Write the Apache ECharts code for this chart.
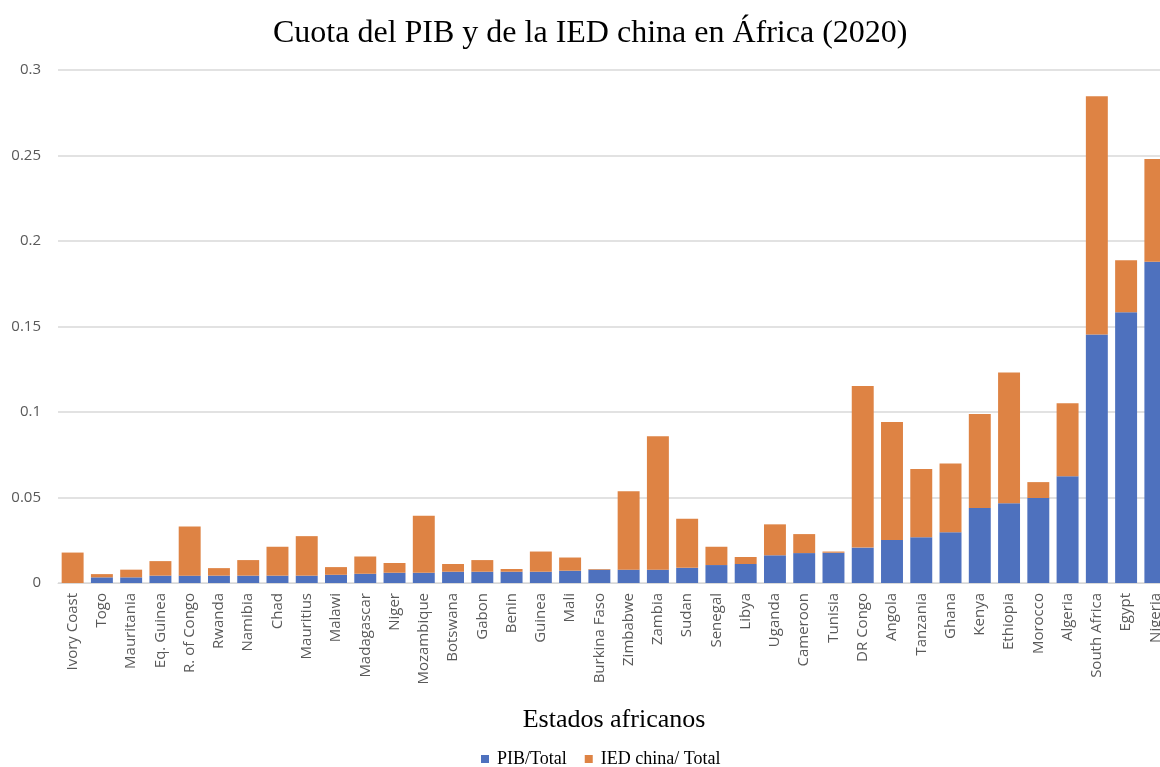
<!DOCTYPE html>
<html>
<head>
<meta charset="utf-8">
<script src="https://cdn.jsdelivr.net/npm/echarts@6/dist/echarts.min.js"></script>
<style>
  html, body { margin: 0; padding: 0; background: #fff; overflow: hidden; }
  /* el gráfico original está recortado a la derecha: el lienzo es algo más ancho que la ventana */
  #main { width: 1172px; height: 767px; }
</style>
</head>
<body>
<div id="main"></div>
<script>
// estados africanos, ordenados como en la figura
var paises = ['Ivory Coast', 'Togo', 'Mauritania', 'Eq. Guinea', 'R. of Congo', 'Rwanda', 'Namibia',
  'Chad', 'Mauritius', 'Malawi', 'Madagascar', 'Niger', 'Mozambique', 'Botswana', 'Gabon', 'Benin',
  'Guinea', 'Mali', 'Burkina Faso', 'Zimbabwe', 'Zambia', 'Sudan', 'Senegal', 'Libya', 'Uganda',
  'Cameroon', 'Tunisia', 'DR Congo', 'Angola', 'Tanzania', 'Ghana', 'Kenya', 'Ethiopia', 'Morocco',
  'Algeria', 'South Africa', 'Egypt', 'Nigeria'];

// PIB/Total
var pib = [0, 0.0033, 0.0033, 0.0043, 0.0043, 0.0043, 0.0043,
  0.0043, 0.0043, 0.0048, 0.0054, 0.006, 0.006, 0.0066, 0.0066, 0.0066,
  0.0066, 0.0072, 0.0078, 0.0078, 0.0078, 0.0089, 0.0105, 0.0111, 0.0162,
  0.0175, 0.0177, 0.0207, 0.0252, 0.0268, 0.0297, 0.0439, 0.0466, 0.0497,
  0.0625, 0.1453, 0.1583, 0.1878];

// total de cada barra (PIB + IED), la parte naranja es la diferencia
var total = [0.0178, 0.0052, 0.0078, 0.0128, 0.033, 0.0087, 0.0134,
  0.0212, 0.0274, 0.0093, 0.0155, 0.0117, 0.0394, 0.0111, 0.0134, 0.0082,
  0.0184, 0.0149, 0.0082, 0.0536, 0.0858, 0.0376, 0.0212, 0.0152, 0.0343,
  0.0286, 0.0184, 0.1152, 0.0942, 0.0666, 0.0699, 0.0988, 0.1231, 0.059,
  0.1051, 0.2846, 0.1888, 0.248];

// IED china/ Total
var ied = total.map(function (t, i) { return +(t - pib[i]).toFixed(4); });

var yTicks = [0, 0.05, 0.1, 0.15, 0.2, 0.25, 0.3];

var chart = echarts.init(document.getElementById('main'));

chart.setOption({
  animation: false,
  title: {
    text: 'Cuota del PIB y de la IED china en África (2020)',
    left: 268,
    top: 13,
    textStyle: { fontFamily: 'Liberation Serif', fontSize: 32, fontWeight: 'normal', color: '#000' }
  },
  legend: {
    data: ['PIB/Total', 'IED china/ Total'],
    top: 745,
    left: 476,
    itemWidth: 8,
    itemHeight: 8,
    itemGap: 18,
    icon: 'rect',
    textStyle: { fontFamily: 'Liberation Serif', fontSize: 18, color: '#000', padding: [0, 0, 0, 3] }
  },
  grid: { left: 58, right: 2, top: 70, bottom: 184 },
  xAxis: {
    type: 'category',
    data: paises,
    name: 'Estados africanos',
    nameLocation: 'middle',
    nameGap: 124,
    nameTextStyle: { fontFamily: 'Liberation Serif', fontSize: 26, color: '#000' },
    axisLine: { lineStyle: { color: '#d9d9d9', width: 1 } },
    axisTick: { show: false },
    axisLabel: {
      rotate: 90,
      interval: 0,
      margin: 10,
      fontFamily: 'Open Sans',
      fontSize: 15,
      color: '#595959'
    }
  },
  yAxis: {
    type: 'value',
    min: yTicks[0],
    max: yTicks[yTicks.length - 1],
    interval: 0.05,
    axisLine: { show: false },
    axisTick: { show: false },
    axisLabel: { fontFamily: 'Open Sans', fontSize: 15, color: '#595959', margin: 17 },
    splitLine: { lineStyle: { color: '#d9d9d9', width: 1.5 } }
  },
  series: [
    {
      name: 'PIB/Total',
      type: 'bar',
      stack: 'total',
      data: pib,
      barCategoryGap: '25%',
      itemStyle: { color: '#4e71be' }
    },
    {
      name: 'IED china/ Total',
      type: 'bar',
      stack: 'total',
      data: ied,
      itemStyle: { color: '#de8344' }
    }
  ]
});
</script>
</body>
</html>
